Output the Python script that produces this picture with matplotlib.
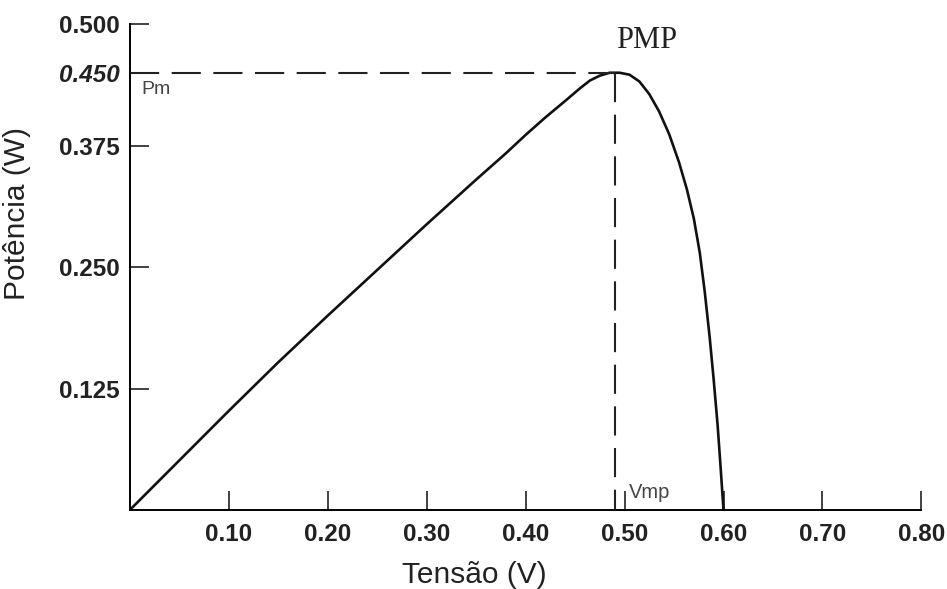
import numpy as np
import matplotlib.pyplot as plt

# Curva P-V de uma celula
tensao = [0.0, 0.05, 0.10, 0.15, 0.20, 0.25, 0.30, 0.35, 0.38, 0.40, 0.42,
          0.44, 0.455, 0.465, 0.475, 0.485, 0.495, 0.505, 0.515, 0.525,
          0.535, 0.545, 0.555, 0.563, 0.570, 0.576, 0.581, 0.586, 0.590,
          0.594, 0.597, 0.599, 0.600]
potencia = [0.0, 0.051, 0.102, 0.152, 0.200, 0.247, 0.294, 0.340, 0.367,
            0.386, 0.404, 0.421, 0.434, 0.442, 0.447, 0.450, 0.450, 0.448,
            0.441, 0.428, 0.410, 0.387, 0.358, 0.330, 0.300, 0.265, 0.225,
            0.178, 0.135, 0.088, 0.045, 0.015, 0.0]

v_mp = 0.49
p_m = 0.45

x_ticks = [0.10, 0.20, 0.30, 0.40, 0.50, 0.60, 0.70, 0.80]
x_labels = ["0.10", "0.20", "0.30", "0.40", "0.50", "0.60", "0.70", "0.80"]
y_ticks = [0.125, 0.250, 0.375, 0.450, 0.500]
y_labels = ["0.125", "0.250", "0.375", "0.450", "0.500"]

plt.rcParams['font.family'] = ['Liberation Sans', 'DejaVu Sans']

fig = plt.figure(figsize=(9.47, 5.89), dpi=100)
ax = fig.add_axes([0.137, 0.134, 0.836, 0.825])

ax.plot(tensao, potencia, color='#111111', lw=1.9, solid_capstyle='round',
        solid_joinstyle='round')

dash = (0, (14, 6))
ax.plot([0, v_mp], [p_m, p_m], color='#222222', lw=1.5, linestyle=dash)
ax.plot([v_mp, v_mp], [p_m, 0], color='#222222', lw=1.5, linestyle=dash)

ax.set_xlim(0, 0.8)
ax.set_ylim(0, 0.5)

ax.spines['top'].set_visible(False)
ax.spines['right'].set_visible(False)
ax.spines['left'].set_linewidth(1.4)
ax.spines['bottom'].set_linewidth(1.4)

ax.set_xticks(x_ticks)
ax.set_xticklabels(x_labels, fontsize=17.5, fontweight='bold', color='#222222')
ax.set_yticks(y_ticks)
ax.set_yticklabels(y_labels, fontsize=17.5, fontweight='bold', color='#222222')
ax.get_yticklabels()[3].set_fontstyle('italic')

ax.tick_params(axis='x', direction='in', length=14, width=1.3, pad=9,
               color='#333333')
ax.tick_params(axis='y', direction='in', length=14, width=1.3, pad=7,
               color='#333333')

ax.set_xlabel("Tensão (V)", fontsize=21.5, color='#222222')
ax.xaxis.set_label_coords(0.435, -0.105)
ax.set_ylabel("Potência (W)", fontsize=21.5, color='#222222')
ax.yaxis.set_label_coords(-0.125, 0.61)

ax.text(0.012, p_m - 0.009, "Pm", fontsize=14, color='#444444',
        ha='left', va='top')
ax.text(v_mp + 0.014, 0.008, "Vmp", fontsize=14.5, color='#444444',
        ha='left', va='bottom')
ax.text(0.522, 0.4835, "PMP", fontsize=22, family=['Liberation Serif'],
        color='#222222', ha='center', va='center')

fig.savefig("out.png", dpi=100)
